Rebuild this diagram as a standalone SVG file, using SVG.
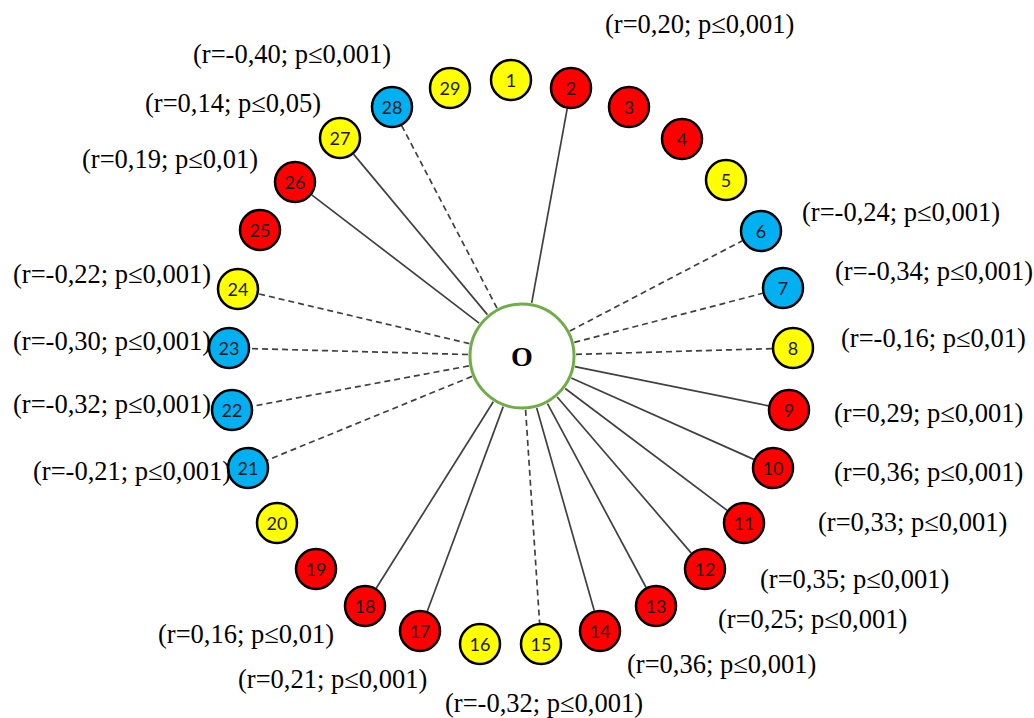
<svg xmlns="http://www.w3.org/2000/svg" width="1034" height="718" viewBox="0 0 1034 718">
<style>
.n circle{stroke:#000;stroke-width:2.5}
.red{fill:#FF0000}.yel{fill:#FFFF00}.blu{fill:#00B0F0}
.n text{font-family:Lato,"Liberation Sans",sans-serif;font-size:18px;fill:#1a1a1a;text-anchor:middle;dominant-baseline:central}
.lbl{font-family:"Liberation Serif","Times New Roman",serif;font-size:26.5px;fill:#000}
.s{stroke:#404040;stroke-width:1.7;fill:none}
.d{stroke:#404040;stroke-width:1.7;fill:none;stroke-dasharray:6 4}
</style>
<rect width="1034" height="718" fill="#fff"/>
<g id="connectors">
<line class="s" x1="531.7" y1="302.9" x2="567.2" y2="108.7"/>
<line class="d" x1="569.9" y1="331.0" x2="742.4" y2="240.7"/>
<line class="d" x1="574.3" y1="342.4" x2="762.7" y2="293.3"/>
<line class="d" x1="576.0" y1="354.4" x2="772.0" y2="348.6"/>
<line class="s" x1="574.9" y1="366.7" x2="768.4" y2="405.8"/>
<line class="s" x1="571.3" y1="378.0" x2="753.8" y2="459.4"/>
<line class="s" x1="565.2" y1="388.5" x2="727.2" y2="510.4"/>
<line class="s" x1="557.2" y1="397.0" x2="691.3" y2="553.1"/>
<line class="s" x1="547.5" y1="403.6" x2="646.1" y2="587.5"/>
<line class="s" x1="536.7" y1="408.0" x2="594.3" y2="610.8"/>
<line class="d" x1="525.6" y1="409.9" x2="539.6" y2="623.0"/>
<line class="s" x1="503.2" y1="406.6" x2="427.3" y2="611.3"/>
<line class="s" x1="493.3" y1="401.7" x2="376.2" y2="588.2"/>
<line class="d" x1="472.0" y1="376.4" x2="267.4" y2="460.1"/>
<line class="d" x1="468.9" y1="365.9" x2="252.6" y2="406.2"/>
<line class="d" x1="468.0" y1="354.5" x2="250.0" y2="348.6"/>
<line class="d" x1="469.4" y1="343.6" x2="258.4" y2="293.8"/>
<line class="s" x1="479.1" y1="323.1" x2="311.7" y2="194.8"/>
<line class="s" x1="487.4" y1="314.6" x2="353.5" y2="154.1"/>
<line class="d" x1="497.0" y1="308.1" x2="401.7" y2="125.6"/>
</g>
<g id="nodeO">
<circle cx="522" cy="356" r="52" fill="#fff" stroke="#70AD47" stroke-width="3"/>
<text x="522" y="366" font-family="'Liberation Serif',serif" font-weight="bold" font-size="28" text-anchor="middle">O</text>
</g>
<g id="n1" class="n"><circle class="yel" cx="511" cy="80" r="20"/><text x="511" y="80">1</text></g>
<g id="n2" class="n"><circle class="red" cx="571" cy="88" r="20"/><text x="571" y="88">2</text></g>
<g id="n3" class="n"><circle class="red" cx="629" cy="107" r="20"/><text x="629" y="107">3</text></g>
<g id="n4" class="n"><circle class="red" cx="682" cy="139" r="20"/><text x="682" y="139">4</text></g>
<g id="n5" class="n"><circle class="yel" cx="726" cy="180" r="20"/><text x="726" y="180">5</text></g>
<g id="n6" class="n"><circle class="blu" cx="761" cy="231" r="20"/><text x="761" y="231">6</text></g>
<g id="n7" class="n"><circle class="blu" cx="783" cy="288" r="20"/><text x="783" y="288">7</text></g>
<g id="n8" class="n"><circle class="yel" cx="793" cy="348" r="20"/><text x="793" y="348">8</text></g>
<g id="n9" class="n"><circle class="red" cx="789" cy="410" r="20"/><text x="789" y="410">9</text></g>
<g id="n10" class="n"><circle class="red" cx="773" cy="468" r="20"/><text x="773" y="468">10</text></g>
<g id="n11" class="n"><circle class="red" cx="744" cy="523" r="20"/><text x="744" y="523">11</text></g>
<g id="n12" class="n"><circle class="red" cx="705" cy="569" r="20"/><text x="705" y="569">12</text></g>
<g id="n13" class="n"><circle class="red" cx="656" cy="606" r="20"/><text x="656" y="606">13</text></g>
<g id="n14" class="n"><circle class="red" cx="600" cy="631" r="20"/><text x="600" y="631">14</text></g>
<g id="n15" class="n"><circle class="yel" cx="541" cy="644" r="20"/><text x="541" y="644">15</text></g>
<g id="n16" class="n"><circle class="yel" cx="480" cy="644" r="20"/><text x="480" y="644">16</text></g>
<g id="n17" class="n"><circle class="red" cx="420" cy="631" r="20"/><text x="420" y="631">17</text></g>
<g id="n18" class="n"><circle class="red" cx="365" cy="606" r="20"/><text x="365" y="606">18</text></g>
<g id="n19" class="n"><circle class="red" cx="316" cy="569" r="20"/><text x="316" y="569">19</text></g>
<g id="n20" class="n"><circle class="yel" cx="277" cy="523" r="20"/><text x="277" y="523">20</text></g>
<g id="n21" class="n"><circle class="blu" cx="248" cy="468" r="20"/><text x="248" y="468">21</text></g>
<g id="n22" class="n"><circle class="blu" cx="232" cy="410" r="20"/><text x="232" y="410">22</text></g>
<g id="n23" class="n"><circle class="blu" cx="229" cy="348" r="20"/><text x="229" y="348">23</text></g>
<g id="n24" class="n"><circle class="yel" cx="238" cy="289" r="20"/><text x="238" y="289">24</text></g>
<g id="n25" class="n"><circle class="red" cx="260" cy="230" r="20"/><text x="260" y="230">25</text></g>
<g id="n26" class="n"><circle class="red" cx="295" cy="182" r="20"/><text x="295" y="182">26</text></g>
<g id="n27" class="n"><circle class="yel" cx="340" cy="138" r="20"/><text x="340" y="138">27</text></g>
<g id="n28" class="n"><circle class="blu" cx="392" cy="107" r="20"/><text x="392" y="107">28</text></g>
<g id="n29" class="n"><circle class="yel" cx="450" cy="88" r="20"/><text x="450" y="88">29</text></g>
<g id="labels" class="lbl">
<text x="605" y="33">(r=0,20; p≤0,001)</text>
<text x="193" y="63">(r=-0,40; p≤0,001)</text>
<text x="145" y="112">(r=0,14; p≤0,05)</text>
<text x="82" y="168">(r=0,19; p≤0,01)</text>
<text x="802" y="221">(r=-0,24; p≤0,001)</text>
<text x="835" y="280">(r=-0,34; p≤0,001)</text>
<text x="841" y="347">(r=-0,16; p≤0,01)</text>
<text x="13" y="283">(r=-0,22; p≤0,001)</text>
<text x="13" y="350">(r=-0,30; p≤0,001)</text>
<text x="13" y="413">(r=-0,32; p≤0,001)</text>
<text x="33" y="480">(r=-0,21; p≤0,001)</text>
<text x="834" y="422">(r=0,29; p≤0,001)</text>
<text x="834" y="481">(r=0,36; p≤0,001)</text>
<text x="818" y="531">(r=0,33; p≤0,001)</text>
<text x="760" y="588">(r=0,35; p≤0,001)</text>
<text x="718" y="628">(r=0,25; p≤0,001)</text>
<text x="627" y="673">(r=0,36; p≤0,001)</text>
<text x="445" y="712">(r=-0,32; p≤0,001)</text>
<text x="238" y="688">(r=0,21; p≤0,001)</text>
<text x="158" y="643">(r=0,16; p≤0,01)</text>
</g>
</svg>
